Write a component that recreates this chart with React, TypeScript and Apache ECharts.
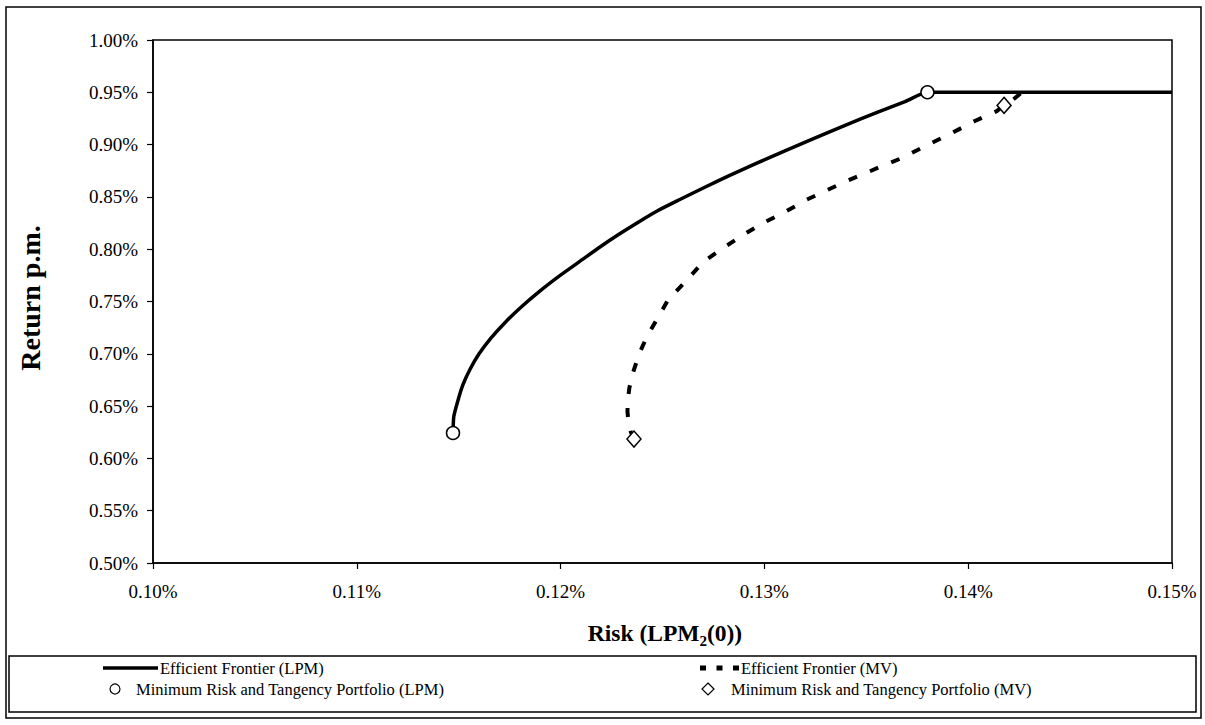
import React, { useEffect, useRef } from "react";
import * as echarts from "echarts";

// Efficient frontier (LPM): risk (%), return p.m. (%)
const lpmRisk = [0.11472, 0.11476, 0.11497, 0.1152, 0.11555, 0.116, 0.11658, 0.11728, 0.11808, 0.11898, 0.11998, 0.12106, 0.12195, 0.12292, 0.12385, 0.12478, 0.12585, 0.12705, 0.1283, 0.1296, 0.13095, 0.13238, 0.1339, 0.1355, 0.1369, 0.138, 0.15];
const lpmReturn = [0.6243, 0.64, 0.6558, 0.67, 0.685, 0.7, 0.715, 0.73, 0.745, 0.76, 0.775, 0.79, 0.8024, 0.815, 0.8263, 0.837, 0.8475, 0.859, 0.8705, 0.882, 0.8935, 0.9055, 0.918, 0.9305, 0.9411, 0.95, 0.95];

// Efficient frontier (MV)
const mvRisk = [0.1236, 0.12345, 0.12333, 0.12328, 0.1233, 0.12337, 0.12352, 0.12372, 0.12394, 0.1242, 0.12448, 0.12502, 0.12527, 0.1262, 0.12699, 0.12797, 0.12895, 0.12993, 0.13101, 0.13209, 0.1339, 0.13567, 0.13675, 0.1379, 0.1392, 0.14033, 0.1414, 0.14176, 0.1422, 0.14264];
const mvReturn = [0.6185, 0.625, 0.635, 0.645, 0.655, 0.667, 0.68, 0.692, 0.7036, 0.715, 0.7247, 0.7428, 0.7514, 0.7706, 0.7878, 0.8011, 0.8136, 0.825, 0.8356, 0.8475, 0.864, 0.8786, 0.8872, 0.8987, 0.9111, 0.9226, 0.932, 0.9375, 0.943, 0.95];

// Minimum risk and tangency portfolios
const lpmPortRisk = [0.11472, 0.138];
const lpmPortReturn = [0.6243, 0.95];
const mvPortRisk = [0.1236, 0.14176];
const mvPortReturn = [0.6185, 0.9375];

const legendNames = [
  "Efficient Frontier (LPM)",
  "Efficient Frontier (MV)",
  "Minimum Risk and Tangency Portfolio (LPM)",
  "Minimum Risk and Tangency Portfolio (MV)",
];

const FONT = "Liberation Serif";

const zip = (a: number[], b: number[]) => a.map((v, i) => [v, b[i]]);

export default function App() {
  const ref = useRef<HTMLDivElement>(null);
  useEffect(() => {
    if (!ref.current) return;
    const chart = echarts.init(ref.current, null, { renderer: "svg" });
    const legendFont = { fontFamily: FONT, fontSize: 16.5, fill: "#000" };
    chart.setOption({
      animation: false,
      backgroundColor: "#fff",
      grid: {
        left: 153,
        right: 33,
        top: 40,
        bottom: 162,
        show: true,
        borderColor: "#000",
        borderWidth: 1.5,
      },
      xAxis: {
        type: "value",
        min: 0.1,
        max: 0.15,
        interval: 0.01,
        axisLine: { show: true, lineStyle: { color: "#000", width: 1.5 } },
        axisTick: { show: true, inside: false, length: 6, lineStyle: { color: "#000", width: 1.2 } },
        splitLine: { show: false },
        axisLabel: {
          margin: 19,
          color: "#000",
          fontFamily: FONT,
          fontSize: 19,
          formatter: (v: number) => v.toFixed(2) + "%",
        },
      },
      yAxis: {
        type: "value",
        min: 0.5,
        max: 1.0,
        interval: 0.05,
        axisLine: { show: true, lineStyle: { color: "#000", width: 1.5 } },
        axisTick: { show: true, inside: false, length: 6, lineStyle: { color: "#000", width: 1.2 } },
        splitLine: { show: false },
        axisLabel: {
          margin: 15,
          color: "#000",
          fontFamily: FONT,
          fontSize: 19,
          formatter: (v: number) => v.toFixed(2) + "%",
        },
      },
      series: [
        {
          name: legendNames[0],
          type: "line",
          data: zip(lpmRisk, lpmReturn),
          symbol: "none",
          smooth: 0.2,
          lineStyle: { color: "#000", width: 3.5 },
          z: 2,
        },
        {
          name: legendNames[1],
          type: "line",
          data: zip(mvRisk, mvReturn),
          symbol: "none",
          lineStyle: { color: "#000", width: 4, type: [9, 14], cap: "butt" },
          z: 2,
        },
        {
          name: legendNames[2],
          type: "scatter",
          data: zip(lpmPortRisk, lpmPortReturn),
          symbol: "circle",
          symbolSize: 13,
          itemStyle: { color: "#fff", borderColor: "#000", borderWidth: 1.5, opacity: 1 },
          z: 4,
        },
        {
          name: legendNames[3],
          type: "scatter",
          data: zip(mvPortRisk, mvPortReturn),
          symbol: "diamond",
          symbolSize: [14, 16],
          itemStyle: { color: "#fff", borderColor: "#000", borderWidth: 1.5, opacity: 1 },
          z: 4,
        },
      ],
      graphic: [
        {
          type: "rect",
          shape: { x: 6, y: 7, width: 1195, height: 711 },
          style: { fill: "none", stroke: "#000", lineWidth: 1.5 },
          z: 0,
        },
        {
          type: "text",
          x: 30,
          y: 298,
          rotation: Math.PI / 2,
          style: {
            text: "Return p.m.",
            fontFamily: FONT,
            fontSize: 28,
            fontWeight: "bold",
            fill: "#000",
            textAlign: "center",
            textVerticalAlign: "middle",
          },
        },
        {
          type: "text",
          x: 665,
          y: 633,
          style: {
            text: "{a|Risk (LPM}{s|2}{a|(0))}",
            textAlign: "center",
            textVerticalAlign: "middle",
            rich: {
              a: { fontFamily: FONT, fontSize: 23.5, fontWeight: "bold", fill: "#000", color: "#000" },
              s: {
                fontFamily: FONT,
                fontSize: 15,
                fontWeight: "bold",
                fill: "#000",
                color: "#000",
                padding: [15, 0, 0, 0],
              },
            },
          },
        },
        {
          type: "rect",
          shape: { x: 9, y: 656, width: 1187, height: 56 },
          style: { fill: "#fff", stroke: "#000", lineWidth: 1.5 },
        },
        {
          type: "line",
          shape: { x1: 103, y1: 668, x2: 158, y2: 668 },
          style: { stroke: "#000", lineWidth: 3.5 },
        },
        {
          type: "text",
          x: 160,
          y: 668,
          style: { ...legendFont, text: legendNames[0], textVerticalAlign: "middle" },
        },
        {
          type: "circle",
          shape: { cx: 115, cy: 689, r: 5 },
          style: { fill: "#fff", stroke: "#000", lineWidth: 1.2 },
        },
        {
          type: "text",
          x: 136,
          y: 689,
          style: { ...legendFont, text: legendNames[2], textVerticalAlign: "middle" },
        },
        {
          type: "line",
          shape: { x1: 700, y1: 668, x2: 739, y2: 668 },
          style: { stroke: "#000", lineWidth: 5, lineDash: [6, 10.5] },
        },
        {
          type: "text",
          x: 741,
          y: 668,
          style: { ...legendFont, text: legendNames[1], textVerticalAlign: "middle" },
        },
        {
          type: "polygon",
          shape: { points: [[708, 683], [714, 689], [708, 695], [702, 689]] },
          style: { fill: "#fff", stroke: "#000", lineWidth: 1.2 },
        },
        {
          type: "text",
          x: 731,
          y: 689,
          style: { ...legendFont, text: legendNames[3], textVerticalAlign: "middle" },
        },
      ],
    });
    return () => chart.dispose();
  }, []);
  return (
    <div
      ref={ref}
      style={{ position: "absolute", left: 0, top: 0, width: 1205, height: 725, background: "#fff" }}
    />
  );
}
